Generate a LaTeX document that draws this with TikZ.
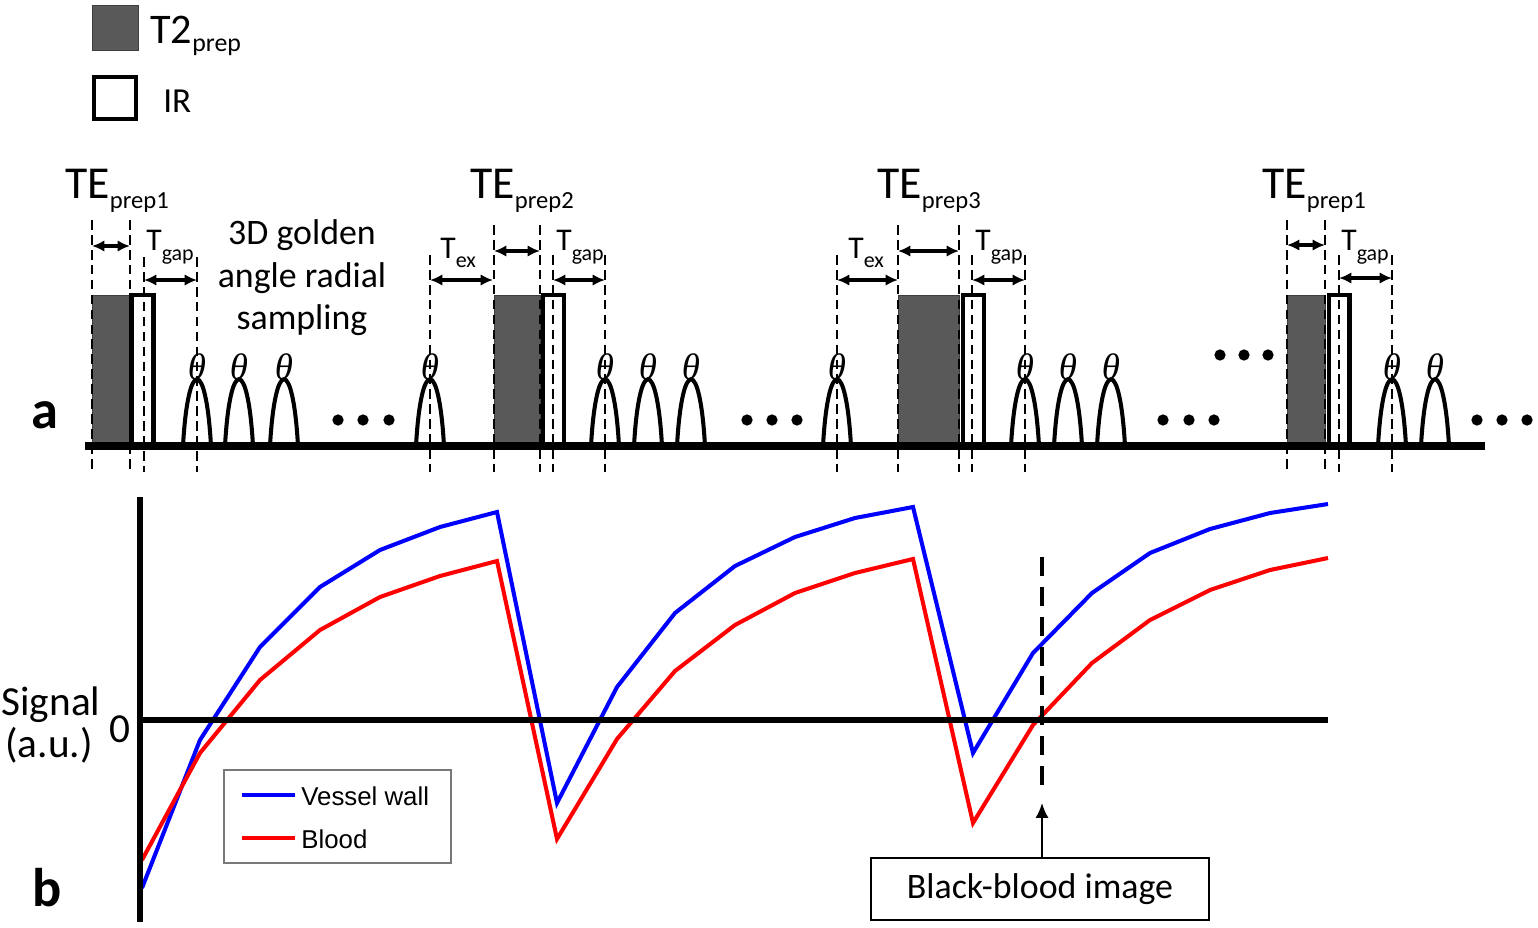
\documentclass[tikz,border=0pt]{standalone}
\usepackage{fontspec}
\setmainfont{Carlito}
\newfontfamily\arialf{Liberation Sans}
\newfontfamily\grkf{Liberation Serif}
\usetikzlibrary{arrows.meta}
\definecolor{tgray}{RGB}{89,89,89}
\definecolor{lgray}{RGB}{120,120,120}
\begin{document}
\begin{tikzpicture}[x=0.02cm,y=-0.02cm,
  seqline/.style={line width=4.3pt},
  dsh/.style={line width=1.1pt,dash pattern=on 5.5pt off 3pt},
  dim/.style={line width=2pt,{Latex[length=7pt,width=6.5pt]}-{Latex[length=7pt,width=6.5pt]}},
  pulseline/.style={line width=2.3pt},
  t2box/.style={fill=tgray,draw=tgray!70!black,line width=0.5pt},
  irbox/.style={draw=black,fill=white,line width=2.4pt},
  lab/.style={inner sep=0pt},
  curve/.style={line width=2.3pt},
  axisline/.style={line width=3.6pt},
  zeroline/.style={line width=3.3pt}]
\useasboundingbox (0,0) rectangle (1538,927);

% ---- top legend
\draw[t2box] (92,5) rectangle (138,50);
\draw[irbox] (94,77) rectangle (136,119);
\node[lab,anchor=base west] (lt2) at (150,43) {\fontsize{24}{24}\selectfont T2\raisebox{-5pt}{\fontsize{14.7}{14.7}\selectfont prep}};
\node[lab,anchor=base west] (lir) at (163,112) {\fontsize{20}{20}\selectfont IR};

% ---- sequence blocks
\foreach \a/\b in {92/130, 494/540, 898/959, 1287/1325}
  \draw[t2box] (\a,295) rectangle (\b,446);
\foreach \a/\b in {131.5/153.5, 543/564, 963/984, 1329/1349.5}
  \draw[irbox] (\a,295) rectangle (\b,446);

% pulses and theta labels
\foreach \x [count=\i] in {197,239,284,430,605,648,691,837,1025,1068,1111,1392,1435} {
  \draw[pulseline] (\x-14,446) .. controls (\x-9,357) and (\x+9,357) .. (\x+14,446);
  \node[lab] (th\i) at (\x,367) {\grkf\itshape\fontsize{21}{21}\selectfont θ};
}

\draw[seqline] (85,446) -- (1485,446);

% dashed markers
\foreach \x/\t in {92/220,130/220,144/257,197/257,430/255,494/225,540/225,553/255,605/255,837/255,898/225,959/225,972/255,1025/255,1287/220,1325/220,1339/255,1392/255}
  \draw[dsh] (\x,\t) -- (\x,472);

% dimension arrows
\foreach \a/\b/\y in {92/130/246,144/197/280,430/493/280,494/540/251,553/605/280,837/898/280,898/959/251,972/1025/280,1287/1325/245,1339/1392/278}
  \draw[dim] (\a,\y) -- (\b,\y);

% dots
\foreach \x/\y in {338/420,363/420,389/420,747/420,772/420,797/420,1163/420,1189/420,1214/420,1220/355,1244/355,1268/355,1477/420,1502/420,1527/420}
  \fill (\x,\y) circle[radius=3.2pt];

% labels
\foreach \x/\s [count=\i] in {65/1,470/2,877/3,1262/1}
  \node[lab,anchor=base west] (te\i) at (\x,198) {\fontsize{26}{26}\selectfont TE\raisebox{-5.7pt}{\fontsize{14}{14}\selectfont prep\s}};
\foreach \x [count=\i] in {146,556,975,1341}
  \node[lab,anchor=base west] (tg\i) at (\x,250) {\fontsize{18}{18}\selectfont T\raisebox{-6pt}{\fontsize{12.5}{12.5}\selectfont gap}};
\foreach \x [count=\i] in {440,848}
  \node[lab,anchor=base west] (tx\i) at (\x,258) {\fontsize{18}{18}\selectfont T\raisebox{-5.5pt}{\fontsize{12.5}{12.5}\selectfont ex}};

\node[lab,anchor=base] (g1) at (302,244) {\fontsize{20.4}{20.4}\selectfont 3D golden};
\node[lab,anchor=base] (g2) at (302,287) {\fontsize{20.4}{20.4}\selectfont angle radial};
\node[lab,anchor=base] (g3) at (302,329) {\fontsize{20.4}{20.4}\selectfont sampling};

\node[lab] (la) at (45,415) {\fontsize{31}{31}\selectfont\bfseries a};
\node[lab] (lb) at (47,888) {\fontsize{31}{31}\selectfont\bfseries b};

% ---- signal plot
\draw[curve,blue] (142,888) -- (200,740) -- (260,647) -- (320,587) -- (380,550) -- (440,527) -- (497,512)
  -- (557,803) -- (617,687) -- (675,613) -- (735,566) -- (795,537) -- (855,518) -- (913,507)
  -- (973,753) -- (1033,653) -- (1092,593) -- (1150,553) -- (1210,529) -- (1270,513) -- (1328,504);
\draw[curve,red] (142,860) -- (200,753) -- (260,680) -- (320,630) -- (380,597) -- (440,576) -- (497,561)
  -- (557,839) -- (617,739) -- (675,671) -- (735,625) -- (795,593) -- (855,573) -- (913,559)
  -- (973,823) -- (1033,725) -- (1092,663) -- (1150,620) -- (1210,590) -- (1270,570) -- (1328,558);

\draw[zeroline] (140,720) -- (1328,720);
\draw[axisline] (140,497) -- (140,922);

\draw[line width=2.3pt,dash pattern=on 10.8pt off 6.2pt] (1042,557) -- (1042,787);

\node[lab,anchor=base] (sig) at (51,715) {\fontsize{23.5}{23.5}\selectfont Signal};
\node[lab,anchor=base] (au) at (49,757) {\fontsize{23.5}{23.5}\selectfont (a.u.)};
\node[lab,anchor=base] (zero) at (120,742) {\fontsize{23.5}{23.5}\selectfont 0};

% legend
\draw[lgray,line width=0.9pt,fill=white] (224,770) rectangle (451,863);
\draw[blue,line width=2.3pt] (242,795) -- (295,795);
\draw[red,line width=2.3pt] (242,838) -- (295,838);
\node[lab,anchor=west] (lvw) at (301,796) {\arialf\fontsize{14.7}{14.7}\selectfont Vessel wall};
\node[lab,anchor=west] (lbl) at (301,839) {\arialf\fontsize{14.7}{14.7}\selectfont Blood};

% black-blood box
\node[draw,line width=1.1pt,minimum width=338*0.02cm,minimum height=62*0.02cm,inner sep=0pt] (bb) at (1040,889) {\fontsize{20.4}{20.4}\selectfont Black-blood image};
\coordinate (bbtip) at (1042,803);
\draw[line width=1.2pt,-{Latex[length=8.5pt,width=7.5pt]}] (bb.north -| bbtip) -- (bbtip);
\end{tikzpicture}
\end{document}
